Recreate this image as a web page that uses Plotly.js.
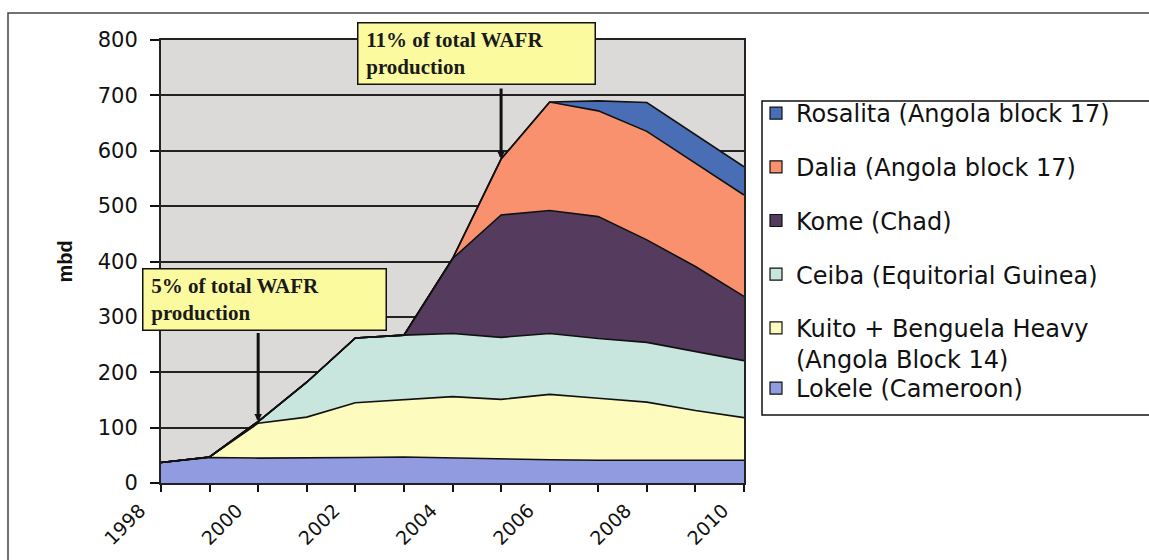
<!DOCTYPE html>
<html>
<head>
<meta charset="utf-8">
<script src="https://cdn.plot.ly/plotly-3.0.1.min.js"></script>
<style>
  html, body { margin: 0; padding: 0; background: #ffffff; }
  #chart { width: 1149px; height: 560px; }
</style>
</head>
<body>
<div id="chart"></div>
<script>
// ---- data (mbd) ----
const years    = [1998, 1999, 2000, 2001, 2002, 2003, 2004, 2005, 2006, 2007, 2008, 2009, 2010];
const lokele   = [37, 46, 45, 45, 46, 47, 45, 44, 42, 41, 41, 41, 41];
const kuito    = [0, 1, 63, 74, 99, 103, 111, 107, 118, 112, 105, 90, 77];
const ceiba    = [0, 0, 3, 63, 117, 117, 114, 112, 110, 108, 108, 106, 103];
const kome     = [0, 0, 0, 0, 0, 0, 135, 221, 222, 220, 185, 154, 116];
const dalia    = [0, 0, 0, 0, 0, 0, 0, 101, 196, 191, 196, 187, 183];
const rosalita = [0, 0, 0, 0, 0, 0, 0, 0, 0, 18, 52, 51, 51];

const seriesNames = [
  "Lokele (Cameroon)",
  "Kuito + Benguela Heavy<br>(Angola Block 14)",
  "Ceiba (Equitorial Guinea)",
  "Kome (Chad)",
  "Dalia (Angola block 17)",
  "Rosalita (Angola block 17)"
];
const seriesValues = [lokele, kuito, ceiba, kome, dalia, rosalita];
const seriesColors = ["#919ce0", "#fdfbbe", "#c8e6de", "#553c5f", "#f9916e", "#4a6eb5"];

const annoLines = [["5% of total WAFR", "production"], ["11% of total WAFR", "production"]];
const annoYears = [2000, 2005];

// ---- geometry helpers (pixel -> paper) ----
const W = 1149, H = 560;
const M = {l: 161, r: 405, t: 40, b: 77};
const PW = W - M.l - M.r, PH = H - M.t - M.b;
const px = x => (x - M.l) / PW;
const py = y => (H - M.b - y) / PH;

const traces = [];
seriesValues.forEach((vals, i) => {
  traces.push({
    type: "scatter", mode: "lines", x: years, y: vals,
    name: seriesNames[i].replace("<br>", " "),
    stackgroup: "one",
    fillcolor: seriesColors[i],
    line: {color: "#111111", width: 1.6, shape: "linear"},
    showlegend: false
  });
});
// legend entries (square swatches), top-to-bottom order as in the legend box
for (let i = seriesValues.length - 1; i >= 0; i--) {
  traces.push({
    type: "scatter", mode: "markers", x: [null], y: [null],
    name: seriesNames[i],
    legend: i === 0 ? "legend2" : "legend",
    legendgroup: "g" + i,
    marker: {symbol: "square", size: 12, color: seriesColors[i], line: {color: "#111111", width: 1.2}},
    hoverinfo: "skip"
  });
}

function totalAt(year) {
  const k = years.indexOf(year);
  return seriesValues.reduce((s, arr) => s + arr[k], 0);
}
function boxText(lines) {
  return lines.map(l => "&nbsp;<b>" + l + "</b>").join("<br>");
}

const boxFont = {family: "Liberation Serif", size: 21, color: "#1a1a1a"};
const annotations = [
  // boxes
  {xref: "paper", yref: "paper", x: px(264.5), y: py(299), xanchor: "center", yanchor: "middle",
   text: boxText(annoLines[0]), showarrow: false,
   width: 237, height: 55, align: "left", valign: "middle",
   bgcolor: "#fcfa9e", bordercolor: "#111111", borderwidth: 1.5, borderpad: 2.5, font: boxFont},
  {xref: "paper", yref: "paper", x: px(476), y: py(54), xanchor: "center", yanchor: "middle",
   text: boxText(annoLines[1]), showarrow: false,
   width: 231, height: 55, align: "left", valign: "middle",
   bgcolor: "#fcfa9e", bordercolor: "#111111", borderwidth: 1.5, borderpad: 2.5, font: boxFont},
  // arrows
  {xref: "x", yref: "y", x: annoYears[0], y: totalAt(annoYears[0]), text: "", showarrow: true,
   ax: 0, ay: -90, arrowhead: 2, arrowsize: 0.5, arrowwidth: 3, arrowcolor: "#111111"},
  {xref: "x", yref: "y", x: annoYears[1], y: totalAt(annoYears[1]), text: "", showarrow: true,
   ax: 0, ay: -72, arrowhead: 2, arrowsize: 0.5, arrowwidth: 3, arrowcolor: "#111111"}
];

const shapes = [
  // outer chart frame
  {type: "rect", xref: "paper", yref: "paper", x0: px(8), x1: px(1170), y0: py(600), y1: py(13),
   line: {color: "#444444", width: 1.5}, fillcolor: "rgba(0,0,0,0)", layer: "below"},
  // legend frame
  {type: "rect", xref: "paper", yref: "paper", x0: px(762), x1: px(1170), y0: py(415), y1: py(101),
   line: {color: "#111111", width: 1.5}, fillcolor: "rgba(0,0,0,0)"}
];

const legendCommon = {
  xref: "paper", yref: "paper", xanchor: "left", yanchor: "top",
  bgcolor: "rgba(0,0,0,0)", borderwidth: 0,
  font: {family: "DejaVu Sans", size: 24, color: "#111111"},
  itemwidth: 30, valign: "top", itemclick: false, itemdoubleclick: false
};

const layout = {
  width: W, height: H,
  margin: M,
  paper_bgcolor: "#ffffff",
  plot_bgcolor: "#dcd9d9",
  font: {family: "DejaVu Sans", color: "#111111"},
  showlegend: true,
  legend: Object.assign({}, legendCommon, {x: px(756), y: py(91), traceorder: "grouped", tracegroupgap: 19.5}),
  legend2: Object.assign({}, legendCommon, {x: px(756), y: py(366)}),
  xaxis: {
    type: "linear", range: [1998, 2010], tick0: 1998, dtick: 2,
    ticks: "outside", ticklen: 7, tickwidth: 1.5, tickcolor: "#111111",
    minor: {dtick: 1, ticks: "outside", ticklen: 7, tickwidth: 1.5, tickcolor: "#111111", showgrid: false},
    tickangle: -45, tickfont: {family: "DejaVu Sans", size: 19, color: "#111111"},
    ticklabelshift: -21, ticklabelstandoff: 0,
    showgrid: false, zeroline: false,
    showline: true, mirror: true, linecolor: "#222222", linewidth: 2, fixedrange: true
  },
  yaxis: {
    range: [0, 800], dtick: 100, tick0: 0,
    ticks: "outside", ticklen: 9, tickwidth: 1.5, tickcolor: "#111111",
    tickfont: {family: "DejaVu Sans", size: 21, color: "#111111"},
    ticklabelstandoff: 8,
    showgrid: true, gridcolor: "#222222", gridwidth: 1.8,
    zeroline: false,
    showline: true, mirror: true, linecolor: "#222222", linewidth: 2,
    title: {text: "<b>mbd</b>", font: {family: "Liberation Sans", size: 20, color: "#111111"}, standoff: 20},
    fixedrange: true
  },
  annotations: annotations,
  shapes: shapes
};

Plotly.newPlot("chart", traces, layout, {displayModeBar: false});
</script>
</body>
</html>
